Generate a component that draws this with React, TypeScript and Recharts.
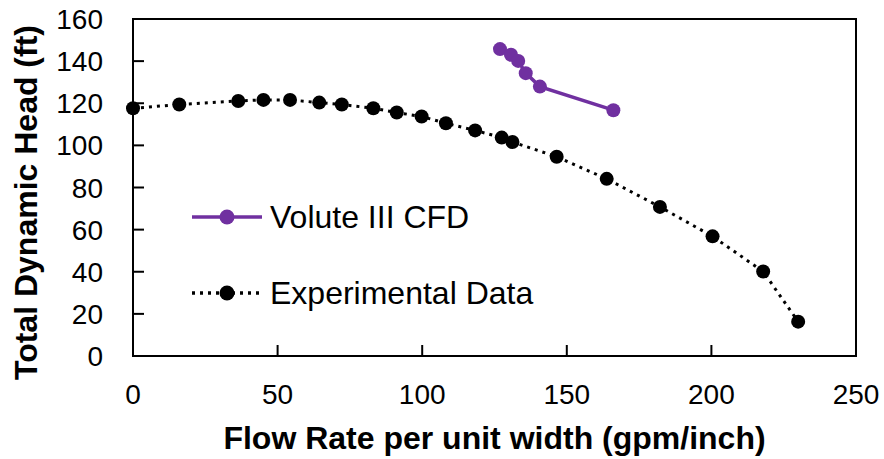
import { ComposedChart, Line, XAxis, YAxis, Label, ReferenceArea } from "recharts";

const expFlow = [0, 16, 36.4, 45.1, 54.3, 64.4, 72.2, 83.1, 91.2, 99.8, 108.2, 118.3, 127.5, 131.2, 146.5, 163.8, 182.2, 200.4, 217.9, 230.0];
const expHead = [117.6, 119.4, 121.1, 121.6, 121.6, 120.3, 119.4, 117.6, 115.6, 113.7, 110.5, 107.1, 103.7, 101.6, 94.6, 84.1, 70.8, 56.8, 40.1, 16.3];
const cfdFlow = [126.9, 130.7, 133.2, 135.8, 140.7, 166.1];
const cfdHead = [145.7, 143, 140.1, 134.3, 127.9, 116.7];
const xTicks = [0, 50, 100, 150, 200, 250];
const yTicks = [0, 20, 40, 60, 80, 100, 120, 140, 160];

const PURPLE = "#7030A0";
const FONT = "'Liberation Sans', Arial, sans-serif";
const X_MARGIN = 27;
const Y_MARGIN = 30;

const expData = expFlow.map((x, i) => ({ x, y: expHead[i] }));
const cfdData = cfdFlow.map((x, i) => ({ x, y: cfdHead[i] }));

// ticks point inwards, so the tick line is drawn together with the label
function renderXTick(props: any) {
  const { x, y, payload, index } = props;
  const axisY = y - X_MARGIN;
  return (
    <g key={`xt-${index}`}>
      <path d={`M${x},${axisY}V${axisY - 11}`} stroke="#000" strokeWidth={2} fill="none" />
      <text x={x} y={y + 21} textAnchor="middle" fill="#000" fontSize={28} fontFamily={FONT}>
        {payload.value}
      </text>
    </g>
  );
}

function renderYTick(props: any) {
  const { x, y, payload, index } = props;
  const axisX = x + Y_MARGIN;
  return (
    <g key={`yt-${index}`}>
      <path d={`M${axisX},${y}H${axisX + 11}`} stroke="#000" strokeWidth={2} fill="none" />
      <text x={x} y={y + 10} textAnchor="end" fill="#000" fontSize={28} fontFamily={FONT}>
        {payload.value}
      </text>
    </g>
  );
}

function LegendBox() {
  const rows = [
    { label: "Volute III CFD", color: PURPLE, dash: undefined as string | undefined },
    { label: "Experimental Data", color: "#000", dash: "3 5" },
  ];
  return (
    <div style={{ position: "absolute", left: 192, top: 179, fontFamily: FONT, whiteSpace: "nowrap" }}>
      {rows.map((r) => (
        <div key={r.label} style={{ display: "flex", alignItems: "center", height: 76 }}>
          <svg width={72} height={20} style={{ marginRight: 6 }}>
            <line x1={0} y1={10} x2={70} y2={10} stroke={r.color} strokeWidth={3.5} strokeDasharray={r.dash} />
            <circle cx={35} cy={10} r={7.5} fill={r.color} />
          </svg>
          <span style={{ fontSize: 32, color: "#000" }}>{r.label}</span>
        </div>
      ))}
    </div>
  );
}

export default function App() {
  return (
    <div style={{ position: "absolute", left: 0, top: 0, width: 884, height: 459, background: "#fff" }}>
      <ComposedChart width={884} height={459} margin={{ top: 19, right: 28, left: 0, bottom: 0 }}>
        <XAxis
          type="number"
          dataKey="x"
          domain={[0, 250]}
          ticks={xTicks}
          height={103}
          stroke="#000"
          strokeWidth={2}
          tickSize={0}
          tickLine={false}
          tickMargin={X_MARGIN}
          tick={renderXTick}
        >
          <Label
            value="Flow Rate per unit width (gpm/inch)"
            position="insideBottom"
            offset={10}
            style={{ fill: "#000", fontSize: 32, fontWeight: "bold", fontFamily: FONT }}
          />
        </XAxis>
        <YAxis
          type="number"
          domain={[0, 160]}
          ticks={yTicks}
          width={133}
          stroke="#000"
          strokeWidth={2}
          tickSize={0}
          tickLine={false}
          tickMargin={Y_MARGIN}
          tick={renderYTick}
        >
          <Label
            value="Total Dynamic Head (ft)"
            angle={-90}
            position="insideLeft"
            offset={26}
            dy={15}
            style={{ textAnchor: "middle", fill: "#000", fontSize: 32, fontWeight: "bold", fontFamily: FONT }}
          />
        </YAxis>
        <ReferenceArea x1={0} x2={250} y1={0} y2={160} fill="none" stroke="#000" strokeWidth={2} ifOverflow="visible" />
        <Line
          data={expData}
          dataKey="y"
          name="Experimental Data"
          type="linear"
          stroke="#000"
          strokeWidth={3}
          strokeDasharray="3 5"
          dot={{ r: 7, fill: "#000", stroke: "none" }}
          isAnimationActive={false}
        />
        <Line
          data={cfdData}
          dataKey="y"
          name="Volute III CFD"
          type="linear"
          stroke={PURPLE}
          strokeWidth={3.5}
          dot={{ r: 7, fill: PURPLE, stroke: "none" }}
          isAnimationActive={false}
        />
      </ComposedChart>
      <LegendBox />
    </div>
  );
}
